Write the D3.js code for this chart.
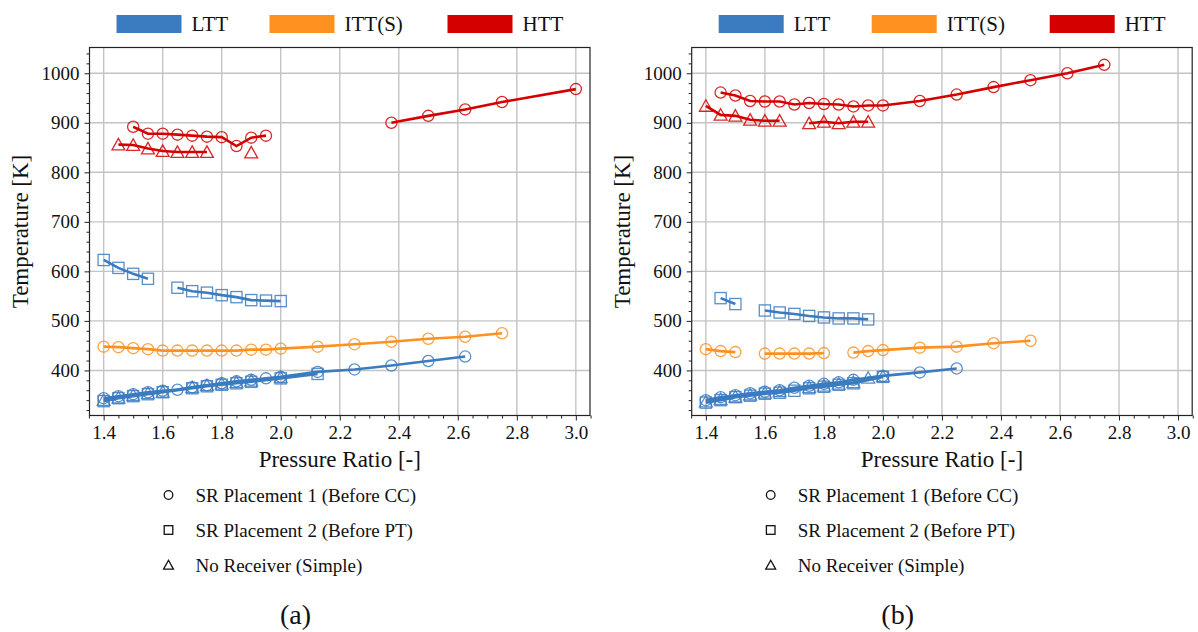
<!DOCTYPE html>
<html>
<head>
<meta charset="utf-8">
<script src="https://cdn.jsdelivr.net/npm/d3@7"></script>
</head>
<body style="margin:0; background:#fff">
<svg id="chart" width="1198" height="632"></svg>
<script>
// pressure ratio [-] and temperature [K]; null = break in the line

// ---- panel (a)
var a_htt_c_pr = [1.5, 1.55, 1.6, 1.65, 1.7, 1.75, 1.8, 1.85, 1.9, 1.95, null, 2.375, 2.5, 2.625, 2.75, 3.0];
var a_htt_c_t  = [892, 878, 878, 876, 874, 872, 871, 853, 870, 874, null, 900, 914, 927, 942, 968];
var a_htt_t_pr = [1.45, 1.5, 1.55, 1.6, 1.65, 1.7, 1.75, null, 1.9];
var a_htt_t_t  = [856, 855, 848, 843, 841, 841, 841, null, 840];
var a_ltt_s_pr = [1.4, 1.45, 1.5, 1.55, null, 1.65, 1.7, 1.75, 1.8, 1.85, 1.9, 1.95, 2.0];
var a_ltt_s_t  = [623, 607, 595, 585, null, 567, 560, 557, 552, 548, 542, 541, 540];
var a_itt_c_pr = [1.4, 1.45, 1.5, 1.55, 1.6, 1.65, 1.7, 1.75, 1.8, 1.85, 1.9, 1.95, 2.0, 2.125, 2.25, 2.375, 2.5, 2.625, 2.75];
var a_itt_c_t  = [448, 447, 445, 443, 440, 440, 440, 440, 440, 440, 442, 442, 444, 448, 453, 458, 464, 468, 475];
var a_ltt_c_pr = [1.4, 1.45, 1.5, 1.55, 1.6, 1.65, 1.7, 1.75, 1.8, 1.85, 1.9, 1.95, 2.0, 2.125, 2.25, 2.375, 2.5, 2.625];
var a_ltt_c_t  = [344, 348, 352, 356, 359, 361, 366, 370, 374, 378, 381, 384, 387, 397, 402, 410, 419, 428];
var a_ltt_s2_pr = [1.4, 1.45, 1.5, 1.55, 1.6, 1.7, 1.75, 1.8, 1.85, 1.9, 2.0, 2.125];
var a_ltt_s2_t  = [338, 344, 348, 352, 356, 364, 368, 371, 374, 377, 384, 393];
var a_ltt_t_pr = [1.4, 1.45, 1.5, 1.55, 1.6, 1.7, 1.75, 1.8, 1.85, 1.9, 2.0];
var a_ltt_t_t  = [340, 345, 350, 354, 357, 366, 370, 373, 376, 379, 386];

// ---- panel (b)
var b_htt_c_pr = [1.45, 1.5, 1.55, 1.6, 1.65, 1.7, 1.75, 1.8, 1.85, 1.9, 1.95, 2.0, 2.125, 2.25, 2.375, 2.5, 2.625, 2.75];
var b_htt_c_t  = [961, 955, 944, 943, 943, 937, 940, 938, 937, 933, 935, 935, 944, 957, 972, 986, 1000, 1017];
var b_htt_t_pr = [1.4, 1.45, 1.5, 1.55, 1.6, 1.65, null, 1.75, 1.8, 1.85, 1.9, 1.95];
var b_htt_t_t  = [934, 916, 914, 906, 904, 904, null, 899, 902, 899, 902, 902];
var b_ltt_s_pr = [1.45, 1.5, null, 1.6, 1.65, 1.7, 1.75, 1.8, 1.85, 1.9, 1.95];
var b_ltt_s_t  = [546, 534, null, 521, 517, 514, 510, 507, 505, 505, 503];
var b_itt_c_pr = [1.4, 1.45, 1.5, null, 1.6, 1.65, 1.7, 1.75, 1.8, null, 1.9, 1.95, 2.0, 2.125, 2.25, 2.375, 2.5];
var b_itt_c_t  = [443, 439, 437, null, 434, 434, 434, 434, 435, null, 436, 439, 441, 446, 448, 455, 460];
var b_ltt_c_pr = [1.4, 1.45, 1.5, 1.55, 1.6, 1.65, 1.7, 1.75, 1.8, 1.85, 1.9, 2.0, 2.125, 2.25];
var b_ltt_c_t  = [340, 346, 350, 354, 357, 360, 365, 369, 373, 376, 381, 389, 396, 404];
var b_ltt_s2_pr = [1.4, 1.45, 1.5, 1.55, 1.6, 1.65, 1.7, 1.75, 1.8, 1.85, 1.9, 2.0];
var b_ltt_s2_t  = [335, 340, 346, 349, 353, 355, 359, 364, 367, 371, 374, 387];
var b_ltt_t_pr = [1.4, 1.45, 1.5, 1.55, 1.6, 1.65, 1.75, 1.8, 1.85, 1.9, 1.95, 2.0];
var b_ltt_t_t  = [337, 342, 347, 351, 355, 358, 366, 369, 373, 376, 385, 388];

var turbines = ['LTT', 'ITT(S)', 'HTT'];
var placements = ['SR Placement 1 (Before CC)', 'SR Placement 2 (Before PT)', 'No Receiver (Simple)'];
var xticks = [1.4, 1.6, 1.8, 2.0, 2.2, 2.4, 2.6, 2.8, 3.0];
var yticks = [400, 500, 600, 700, 800, 900, 1000];
var captions = ['(a)', '(b)'];

var clrs = {'LTT': '#3b7bc0', 'ITT(S)': '#ff9120', 'HTT': '#d40000'};
var serif = 'Liberation Serif';

var panelA = [
    {pr: a_ltt_c_pr, t: a_ltt_c_t, k: 'LTT', m: 0},
    {pr: a_ltt_s2_pr, t: a_ltt_s2_t, k: 'LTT', m: 1},
    {pr: a_ltt_t_pr, t: a_ltt_t_t, k: 'LTT', m: 2},
    {pr: a_ltt_s_pr, t: a_ltt_s_t, k: 'LTT', m: 1},
    {pr: a_itt_c_pr, t: a_itt_c_t, k: 'ITT(S)', m: 0},
    {pr: a_htt_c_pr, t: a_htt_c_t, k: 'HTT', m: 0},
    {pr: a_htt_t_pr, t: a_htt_t_t, k: 'HTT', m: 2}
];
var panelB = [
    {pr: b_ltt_c_pr, t: b_ltt_c_t, k: 'LTT', m: 0},
    {pr: b_ltt_s2_pr, t: b_ltt_s2_t, k: 'LTT', m: 1},
    {pr: b_ltt_t_pr, t: b_ltt_t_t, k: 'LTT', m: 2},
    {pr: b_ltt_s_pr, t: b_ltt_s_t, k: 'LTT', m: 1},
    {pr: b_itt_c_pr, t: b_itt_c_t, k: 'ITT(S)', m: 0},
    {pr: b_htt_c_pr, t: b_htt_c_t, k: 'HTT', m: 0},
    {pr: b_htt_t_pr, t: b_htt_t_t, k: 'HTT', m: 2}
];

var svg = d3.select('#chart');

function marker(sel, m, r) {
    if (m == 0) {
        return sel.append('circle').attr('r', r);
    } else if (m == 1) {
        return sel.append('rect').attr('x', -r).attr('y', -r).attr('width', 2 * r).attr('height', 2 * r);
    }
    return sel.append('path').attr('d', 'M0,' + (-r * 1.1) + 'L' + (r * 1.15) + ',' + (r * 0.95) + 'L' + (-r * 1.15) + ',' + (r * 0.95) + 'Z');
}

function label(g, x, y, size, txt) {
    return g.append('text').attr('x', x).attr('y', y)
        .style('font-family', serif).style('font-size', size + 'px').attr('fill', '#111').text(txt);
}

function panel(left, series, caption) {
    var w = 500.5, top = 47.5, bot = 415.5;
    var xs = d3.scaleLinear().domain([1.352, 3.048]).range([left, left + w]);
    var ys = d3.scaleLinear().domain([309, 1052]).range([bot, top]);
    var g = svg.append('g');

    // grid
    g.selectAll('.gx').data(xticks).enter().append('line')
        .attr('x1', function(d) { return xs(d); }).attr('x2', function(d) { return xs(d); })
        .attr('y1', top).attr('y2', bot)
        .attr('stroke', '#c4c4c4').attr('stroke-width', 1.4);
    g.selectAll('.gy').data(yticks).enter().append('line')
        .attr('y1', function(d) { return ys(d); }).attr('y2', function(d) { return ys(d); })
        .attr('x1', left).attr('x2', left + w)
        .attr('stroke', '#c4c4c4').attr('stroke-width', 1.4);

    // axes
    var xminor = d3.range(1.35, 3.051, 0.05).filter(function(d) { return Math.abs(d * 5 - Math.round(d * 5)) > 0.01; });
    var yminor = d3.range(320, 1052, 20).filter(function(d) { return d % 100 != 0; });
    g.append('g').attr('transform', 'translate(0,' + bot + ')')
        .call(d3.axisBottom(xs).tickValues(xminor).tickSize(3).tickFormat(''));
    g.append('g').attr('transform', 'translate(' + left + ',0)')
        .call(d3.axisLeft(ys).tickValues(yminor).tickSize(3).tickFormat(''));
    var ax = g.append('g').attr('transform', 'translate(0,' + bot + ')')
        .call(d3.axisBottom(xs).tickValues(xticks).tickSize(5).tickPadding(5).tickFormat(d3.format('.1f')));
    var ay = g.append('g').attr('transform', 'translate(' + left + ',0)')
        .call(d3.axisLeft(ys).tickValues(yticks).tickSize(5).tickPadding(5).tickFormat(d3.format('d')));
    [ax, ay].forEach(function(a) {
        a.attr('font-family', serif).attr('font-size', 19);
        a.selectAll('text').style('font-family', serif).style('font-size', '19px').attr('fill', '#111');
    });
    g.selectAll('.domain').remove();
    g.selectAll('.tick line').attr('stroke', '#222');
    g.append('rect').attr('x', left).attr('y', top).attr('width', w).attr('height', bot - top)
        .attr('fill', 'none').attr('stroke', '#222').attr('stroke-width', 1.2);

    // series
    var line = d3.line()
        .defined(function(d) { return d.t != null; })
        .x(function(d) { return xs(d.p); })
        .y(function(d) { return ys(d.t); });
    series.forEach(function(s) {
        var pts = s.pr.map(function(p, i) { return {p: p, t: s.t[i]}; });
        g.append('path').datum(pts).attr('d', line)
            .attr('fill', 'none').attr('stroke', clrs[s.k]).attr('stroke-width', 2.6);
        pts.filter(function(d) { return d.t != null; }).forEach(function(d) {
            var mg = g.append('g').attr('transform', 'translate(' + xs(d.p) + ',' + ys(d.t) + ')');
            marker(mg, s.m, 5.6).attr('fill', 'none').attr('stroke', clrs[s.k])
                .attr('stroke-width', 1.3).attr('stroke-opacity', 0.85);
        });
    });

    // axis titles
    label(g, left + w / 2, 467, 23, 'Pressure Ratio [-]').attr('text-anchor', 'middle');
    label(g, 0, 0, 23, 'Temperature [K]').attr('text-anchor', 'middle')
        .attr('transform', 'translate(' + (left - 62) + ',' + ((top + bot) / 2) + ') rotate(-90)');

    // top legend
    var lx = [27, 180, 358];
    turbines.forEach(function(k, i) {
        g.append('rect').attr('x', left + lx[i]).attr('y', 15).attr('width', 65).attr('height', 18)
            .attr('fill', clrs[k]);
        label(g, left + lx[i] + 75, 31, 21, k);
    });

    // bottom legend
    placements.forEach(function(k, i) {
        var cy = 495 + i * 35;
        var mg = g.append('g').attr('transform', 'translate(' + (left + 79) + ',' + cy + ')');
        marker(mg, i, 4.3).attr('fill', 'none').attr('stroke', '#111').attr('stroke-width', 1.3);
        label(g, left + 106, cy + 7, 19, k);
    });

    label(g, left + 206, 624, 28, caption).attr('text-anchor', 'middle');
}

panel(89.5, panelA, captions[0]);
panel(691.7, panelB, captions[1]);
</script>
</body>
</html>
